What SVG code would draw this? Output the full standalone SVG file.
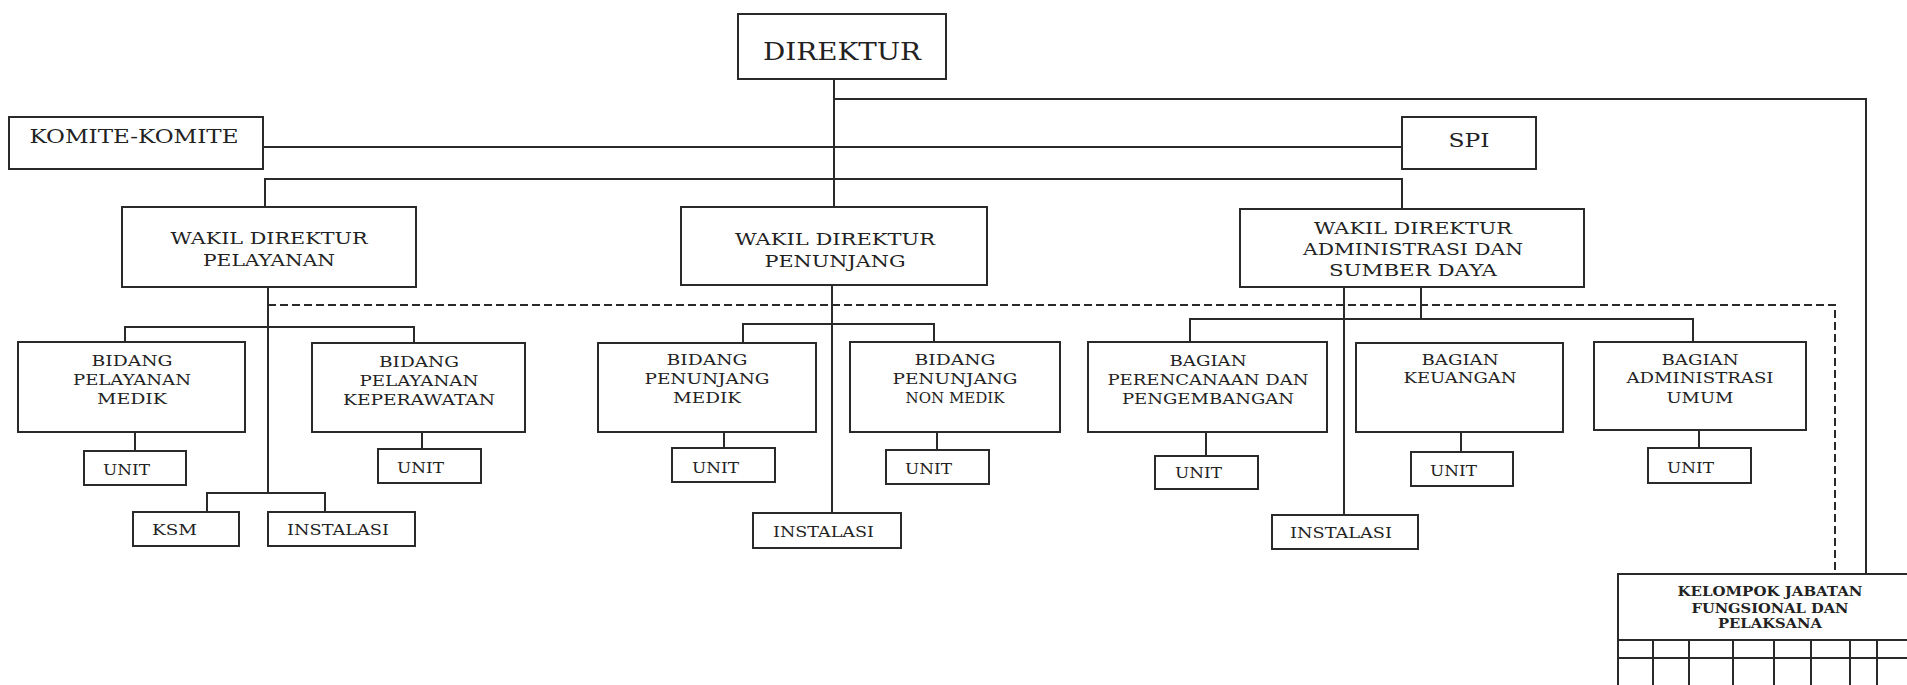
<svg xmlns="http://www.w3.org/2000/svg" width="1907" height="685" viewBox="0 0 1907 685">
<style>
.bx{fill:#fff;stroke:#2a2a2a;stroke-width:2}
.ln{fill:none;stroke:#2a2a2a;stroke-width:2}
.dl{fill:none;stroke:#2a2a2a;stroke-width:2;stroke-dasharray:8 4}
text{font-family:"DejaVu Serif","Liberation Serif",serif;fill:#222}
.c{text-anchor:middle}
.t1{font-size:25px}
.t2{font-size:19px}
.t3{font-size:17px}
.t4{font-size:14px}
.t5{font-size:15px}
.t6{font-size:12px;font-weight:bold}
</style>
<rect width="1907" height="685" fill="#fff"/>
<g id="connectors">
<polyline class="ln" points="834,79 834,207"/>
<polyline class="ln" points="834,99 1866,99 1866,574"/>
<polyline class="ln" points="263,147 1402,147"/>
<polyline class="ln" points="265,207 265,179 1402,179 1402,209"/>
<polyline class="dl" points="268,305 1835,305 1835,574"/>
<polyline class="ln" points="268,287 268,493"/>
<polyline class="ln" points="125,342 125,327 414,327 414,343"/>
<polyline class="ln" points="207,512 207,493 325,493 325,512"/>
<polyline class="ln" points="135,432 135,451"/>
<polyline class="ln" points="422,432 422,449"/>
<polyline class="ln" points="832,285 832,513"/>
<polyline class="ln" points="743,343 743,324 934,324 934,342"/>
<polyline class="ln" points="724,432 724,448"/>
<polyline class="ln" points="937,432 937,450"/>
<polyline class="ln" points="1344,287 1344,515"/>
<polyline class="ln" points="1421,287 1421,319"/>
<polyline class="ln" points="1190,342 1190,319 1693,319 1693,342"/>
<polyline class="ln" points="1206,432 1206,456"/>
<polyline class="ln" points="1461,432 1461,452"/>
<polyline class="ln" points="1699,430 1699,448"/>
</g>
<g id="direktur"><rect class="bx" x="738" y="14" width="208" height="65"/><text class="t1 c" x="842" y="60" textLength="158" lengthAdjust="spacingAndGlyphs">DIREKTUR</text></g>
<g id="komite"><rect class="bx" x="9" y="117" width="254" height="52"/><text class="t2 c" x="134" y="143" textLength="209" lengthAdjust="spacingAndGlyphs">KOMITE-KOMITE</text></g>
<g id="spi"><rect class="bx" x="1402" y="117" width="134" height="52"/><text class="t2 c" x="1469" y="147" textLength="41" lengthAdjust="spacingAndGlyphs">SPI</text></g>
<g id="wadir-pelayanan"><rect class="bx" x="122" y="207" width="294" height="80"/>
<text class="t3 c" x="269" y="244" textLength="197" lengthAdjust="spacingAndGlyphs">WAKIL DIREKTUR</text>
<text class="t3 c" x="269" y="266" textLength="132" lengthAdjust="spacingAndGlyphs">PELAYANAN</text></g>
<g id="wadir-penunjang"><rect class="bx" x="681" y="207" width="306" height="78"/>
<text class="t3 c" x="835" y="245" textLength="200" lengthAdjust="spacingAndGlyphs">WAKIL DIREKTUR</text>
<text class="t3 c" x="835" y="267" textLength="141" lengthAdjust="spacingAndGlyphs">PENUNJANG</text></g>
<g id="wadir-adm"><rect class="bx" x="1240" y="209" width="344" height="78"/>
<text class="t3 c" x="1413" y="234" textLength="198" lengthAdjust="spacingAndGlyphs">WAKIL DIREKTUR</text>
<text class="t3 c" x="1413" y="255" textLength="220" lengthAdjust="spacingAndGlyphs">ADMINISTRASI DAN</text>
<text class="t3 c" x="1413" y="276" textLength="168" lengthAdjust="spacingAndGlyphs">SUMBER DAYA</text></g>
<g id="bid-pel-medik"><rect class="bx" x="18" y="342" width="227" height="90"/>
<text class="t4 c" x="132" y="366" textLength="81" lengthAdjust="spacingAndGlyphs">BIDANG</text>
<text class="t4 c" x="132" y="385" textLength="118" lengthAdjust="spacingAndGlyphs">PELAYANAN</text>
<text class="t4 c" x="132" y="404" textLength="70" lengthAdjust="spacingAndGlyphs">MEDIK</text></g>
<g id="unit-1"><rect class="bx" x="84" y="451" width="102" height="34"/><text class="t5" x="103" y="475" textLength="47" lengthAdjust="spacingAndGlyphs">UNIT</text></g>
<g id="bid-pel-kep"><rect class="bx" x="312" y="343" width="213" height="89"/>
<text class="t4 c" x="419" y="367" textLength="80" lengthAdjust="spacingAndGlyphs">BIDANG</text>
<text class="t4 c" x="419" y="386" textLength="119" lengthAdjust="spacingAndGlyphs">PELAYANAN</text>
<text class="t4 c" x="419" y="405" textLength="152" lengthAdjust="spacingAndGlyphs">KEPERAWATAN</text></g>
<g id="unit-2"><rect class="bx" x="378" y="449" width="103" height="34"/><text class="t5" x="397" y="473" textLength="47" lengthAdjust="spacingAndGlyphs">UNIT</text></g>
<g id="ksm"><rect class="bx" x="133" y="512" width="106" height="34"/><text class="t5" x="152" y="535" textLength="45" lengthAdjust="spacingAndGlyphs">KSM</text></g>
<g id="instalasi-1"><rect class="bx" x="268" y="512" width="147" height="34"/><text class="t5" x="287" y="535" textLength="102" lengthAdjust="spacingAndGlyphs">INSTALASI</text></g>
<g id="bid-pen-medik"><rect class="bx" x="598" y="343" width="218" height="89"/>
<text class="t4 c" x="707" y="365" textLength="81" lengthAdjust="spacingAndGlyphs">BIDANG</text>
<text class="t4 c" x="707" y="384" textLength="125" lengthAdjust="spacingAndGlyphs">PENUNJANG</text>
<text class="t4 c" x="707" y="403" textLength="68" lengthAdjust="spacingAndGlyphs">MEDIK</text></g>
<g id="unit-3"><rect class="bx" x="672" y="448" width="103" height="34"/><text class="t5" x="692" y="473" textLength="47" lengthAdjust="spacingAndGlyphs">UNIT</text></g>
<g id="instalasi-2"><rect class="bx" x="753" y="513" width="148" height="35"/><text class="t5" x="773" y="537" textLength="101" lengthAdjust="spacingAndGlyphs">INSTALASI</text></g>
<g id="bid-pen-nonmedik"><rect class="bx" x="850" y="342" width="210" height="90"/>
<text class="t4 c" x="955" y="365" textLength="81" lengthAdjust="spacingAndGlyphs">BIDANG</text>
<text class="t4 c" x="955" y="384" textLength="125" lengthAdjust="spacingAndGlyphs">PENUNJANG</text>
<text class="t4 c" x="955" y="403" textLength="99" lengthAdjust="spacingAndGlyphs">NON MEDIK</text></g>
<g id="unit-4"><rect class="bx" x="886" y="450" width="103" height="34"/><text class="t5" x="905" y="474" textLength="47" lengthAdjust="spacingAndGlyphs">UNIT</text></g>
<g id="bag-perencanaan"><rect class="bx" x="1088" y="342" width="239" height="90"/>
<text class="t4 c" x="1208" y="366" textLength="77" lengthAdjust="spacingAndGlyphs">BAGIAN</text>
<text class="t4 c" x="1208" y="385" textLength="201" lengthAdjust="spacingAndGlyphs">PERENCANAAN DAN</text>
<text class="t4 c" x="1208" y="404" textLength="172" lengthAdjust="spacingAndGlyphs">PENGEMBANGAN</text></g>
<g id="unit-5"><rect class="bx" x="1155" y="456" width="103" height="33"/><text class="t5" x="1175" y="478" textLength="47" lengthAdjust="spacingAndGlyphs">UNIT</text></g>
<g id="instalasi-3"><rect class="bx" x="1272" y="515" width="146" height="34"/><text class="t5" x="1290" y="538" textLength="102" lengthAdjust="spacingAndGlyphs">INSTALASI</text></g>
<g id="bag-keuangan"><rect class="bx" x="1356" y="343" width="207" height="89"/>
<text class="t4 c" x="1460" y="365" textLength="77" lengthAdjust="spacingAndGlyphs">BAGIAN</text>
<text class="t4 c" x="1460" y="383" textLength="113" lengthAdjust="spacingAndGlyphs">KEUANGAN</text></g>
<g id="unit-6"><rect class="bx" x="1411" y="452" width="102" height="34"/><text class="t5" x="1430" y="476" textLength="47" lengthAdjust="spacingAndGlyphs">UNIT</text></g>
<g id="bag-adm-umum"><rect class="bx" x="1594" y="342" width="212" height="88"/>
<text class="t4 c" x="1700" y="365" textLength="77" lengthAdjust="spacingAndGlyphs">BAGIAN</text>
<text class="t4 c" x="1700" y="383" textLength="147" lengthAdjust="spacingAndGlyphs">ADMINISTRASI</text>
<text class="t4 c" x="1700" y="403" textLength="67" lengthAdjust="spacingAndGlyphs">UMUM</text></g>
<g id="unit-7"><rect class="bx" x="1648" y="448" width="103" height="35"/><text class="t5" x="1667" y="473" textLength="47" lengthAdjust="spacingAndGlyphs">UNIT</text></g>
<g id="kelompok">
<rect class="bx" x="1618" y="574" width="300" height="120"/>
<polyline class="ln" points="1618,640 1907,640"/>
<polyline class="ln" points="1618,658 1907,658"/>
<polyline class="ln" points="1653,640 1653,685"/>
<polyline class="ln" points="1689,640 1689,685"/>
<polyline class="ln" points="1733,640 1733,685"/>
<polyline class="ln" points="1774,640 1774,685"/>
<polyline class="ln" points="1811,640 1811,685"/>
<polyline class="ln" points="1850,640 1850,685"/>
<polyline class="ln" points="1877,640 1877,685"/>
<text class="t6 c" x="1770" y="596" textLength="185" lengthAdjust="spacingAndGlyphs">KELOMPOK JABATAN</text>
<text class="t6 c" x="1770" y="613" textLength="157" lengthAdjust="spacingAndGlyphs">FUNGSIONAL DAN</text>
<text class="t6 c" x="1770" y="628" textLength="104" lengthAdjust="spacingAndGlyphs">PELAKSANA</text>
</g>
</svg>
